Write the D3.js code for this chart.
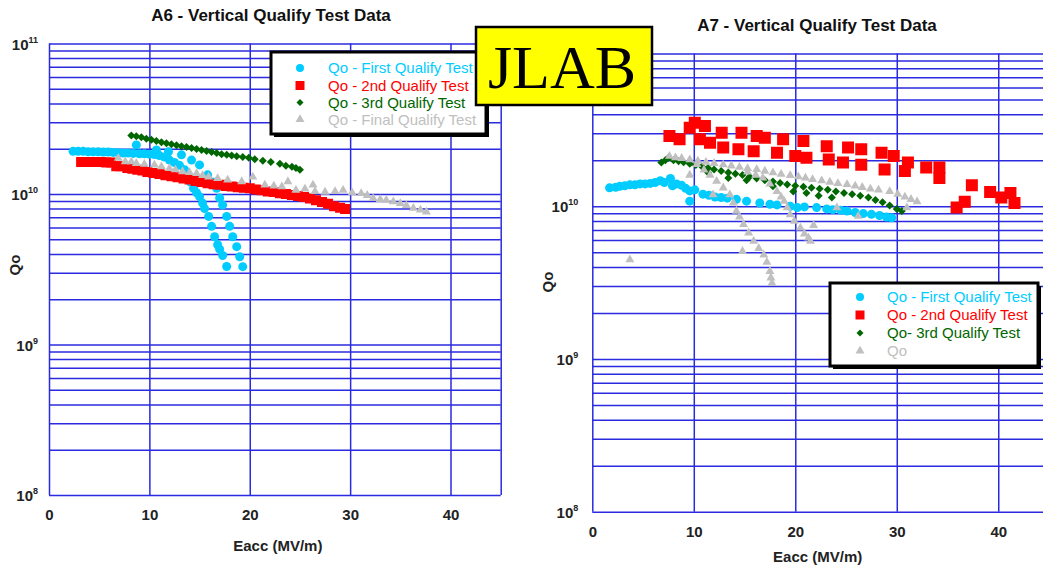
<!DOCTYPE html>
<html><head><meta charset="utf-8">
<script src="https://cdn.jsdelivr.net/npm/d3@7"></script>
<style>
body{margin:0;background:#fff;}
svg{display:block;font-family:"Liberation Sans",Arial,sans-serif;}
</style></head><body>
<svg id="c" width="1043" height="568"></svg>
<script>
// ---------- data ----------
const xTickValues = [0, 10, 20, 30, 40];
const yLabelExponents = [8, 9, 10, 11];
const titleA6 = "A6 - Vertical Qualify Test Data";
const titleA7 = "A7 - Vertical Qualify Test Data";
const xTitle = "Eacc (MV/m)";
const yTitle = "Qo";
const legendA6 = ["Qo - First Qualify Test", "Qo - 2nd Qualify Test", "Qo - 3rd Qualify Test", "Qo - Final Qualify Test"];
const legendA7 = ["Qo - First Qualify Test", "Qo - 2nd Qualify Test", "Qo- 3rd Qualify Test", "Qo"];

// A6 : [Eacc MV/m, Qo]
const a6First = [[2.4,1.92e10],[2.9,1.92e10],[3.4,1.92e10],[3.9,1.91e10],[4.4,1.91e10],[4.9,1.91e10],[5.4,1.90e10],[5.9,1.90e10],[6.4,1.89e10],[6.9,1.88e10],[7.4,1.87e10],[7.9,1.87e10],[8.7,2.12e10],[8.4,1.86e10],[9.0,1.85e10],[9.5,1.85e10],[10.0,1.84e10],[10.7,1.96e10],[10.5,1.83e10],[11.0,1.80e10],[11.5,1.76e10],[11.9,1.91e10],[12.0,1.68e10],[12.5,1.62e10],[13.0,1.55e10],[13.2,1.82e10],[13.5,1.45e10],[13.8,1.34e10],[14.2,1.68e10],[14.1,1.20e10],[14.4,1.09e10],[14.7,1.02e10],[15.0,9.6e9],[15.0,1.56e10],[15.3,8.7e9],[15.5,8.0e9],[15.8,1.34e10],[15.9,7.1e9],[16.2,6.1e9],[16.5,5.2e9],[16.3,1.2e10],[16.7,1.09e10],[16.8,4.6e9],[17.0,9.4e9],[17.0,4.3e9],[17.3,8.45e9],[17.3,3.9e9],[17.7,3.3e9],[17.7,7.1e9],[18.0,6.1e9],[18.3,5.2e9],[18.7,4.47e9],[19.0,3.83e9],[19.3,3.29e9]];
const a6Second = [[3.2,1.63e10],[3.7,1.63e10],[4.2,1.63e10],[4.7,1.63e10],[5.2,1.63e10],[5.7,1.62e10],[6.2,1.62e10],[6.7,1.53e10],[7.2,1.53e10],[7.8,1.49e10],[8.3,1.47e10],[8.8,1.45e10],[9.3,1.43e10],[9.8,1.40e10],[10.4,1.38e10],[11.0,1.36e10],[11.6,1.33e10],[12.2,1.31e10],[12.8,1.29e10],[13.4,1.27e10],[14.0,1.25e10],[14.6,1.22e10],[15.2,1.20e10],[15.8,1.18e10],[16.4,1.16e10],[17.0,1.15e10],[17.6,1.13e10],[18.2,1.12e10],[18.8,1.11e10],[19.4,1.10e10],[20.0,1.09e10],[20.6,1.07e10],[21.2,1.06e10],[21.8,1.04e10],[22.4,1.03e10],[23.0,1.01e10],[23.6,1.0e10],[24.2,9.85e9],[24.8,9.7e9],[25.4,9.55e9],[26.0,9.35e9],[26.6,9.1e9],[27.2,8.85e9],[27.8,8.6e9],[28.4,8.3e9],[29.0,8.1e9],[29.5,7.95e9]];
const a6Third = [[8.2,2.45e10],[8.7,2.42e10],[9.2,2.38e10],[9.7,2.33e10],[10.2,2.29e10],[10.7,2.25e10],[11.2,2.21e10],[11.7,2.17e10],[12.2,2.14e10],[12.7,2.11e10],[13.2,2.08e10],[13.7,2.05e10],[14.2,2.02e10],[14.7,1.99e10],[15.2,1.96e10],[15.7,1.93e10],[16.2,1.90e10],[16.7,1.87e10],[17.2,1.84e10],[17.7,1.82e10],[18.2,1.80e10],[18.7,1.78e10],[19.3,1.76e10],[19.9,1.74e10],[20.5,1.70e10],[21.3,1.66e10],[22.1,1.63e10],[23.0,1.59e10],[23.6,1.54e10],[24.2,1.52e10],[24.6,1.49e10],[25.0,1.45e10]];
const a6Final = [[6.9,1.73e10],[7.6,1.64e10],[8.2,1.64e10],[8.7,1.60e10],[9.5,1.58e10],[10.5,1.56e10],[11.2,1.52e10],[12.0,1.48e10],[12.6,1.45e10],[13.3,1.41e10],[14.0,1.39e10],[14.7,1.37e10],[15.3,1.33e10],[15.9,1.30e10],[16.8,1.27e10],[17.8,1.24e10],[19.2,1.21e10],[20.3,1.30e10],[21.5,1.15e10],[22.4,1.13e10],[23.2,1.12e10],[23.8,1.21e10],[24.6,1.06e10],[25.5,1.08e10],[26.3,1.15e10],[26.5,1.04e10],[27.5,1.03e10],[28.5,1.04e10],[29.3,1.06e10],[30.2,1.02e10],[31.1,1.01e10],[31.7,9.8e9],[32.3,9.35e9],[33.0,9.2e9],[33.6,9.1e9],[34.3,8.9e9],[35.0,8.65e9],[35.6,8.4e9],[36.3,8.05e9],[37.0,7.85e9],[37.6,7.6e9]];

// A7 : [Eacc MV/m, Qo]
const a7First = [[1.7,1.32e10],[2.3,1.33e10],[2.7,1.35e10],[3.2,1.36e10],[3.7,1.38e10],[4.2,1.38e10],[4.7,1.40e10],[5.2,1.40e10],[5.7,1.41e10],[6.2,1.43e10],[6.7,1.47e10],[7.1,1.43e10],[7.7,1.52e10],[7.9,1.36e10],[8.3,1.40e10],[8.8,1.37e10],[9.2,1.31e10],[9.6,1.26e10],[9.6,1.08e10],[10.1,1.28e10],[10.9,1.20e10],[11.5,1.18e10],[12.1,1.15e10],[12.7,1.14e10],[13.3,1.13e10],[14.2,1.11e10],[15.2,1.08e10],[16.5,1.05e10],[17.5,1.03e10],[18.2,1.02e10],[19.5,1.0e10],[20.2,9.8e9],[20.9,9.9e9],[22.1,9.8e9],[23.1,9.6e9],[23.7,9.5e9],[24.5,9.4e9],[25.1,9.3e9],[25.9,9.1e9],[26.7,8.95e9],[27.5,8.85e9],[28.3,8.7e9],[29.0,8.5e9],[29.5,8.4e9]];
const a7Second = [[7.6,2.88e10],[8.6,2.74e10],[9.6,3.27e10],[10.1,3.52e10],[11.1,3.35e10],[10.6,2.74e10],[11.6,2.60e10],[12.75,3.03e10],[12.9,2.42e10],[14.4,2.36e10],[14.7,3.03e10],[15.9,2.29e10],[16.2,2.88e10],[17.0,2.81e10],[18.2,2.24e10],[18.8,2.74e10],[20.0,2.13e10],[20.8,2.67e10],[21.1,2.08e10],[23.1,2.47e10],[23.3,2.02e10],[24.7,1.93e10],[25.2,2.42e10],[26.5,2.36e10],[26.5,1.87e10],[28.5,2.24e10],[28.8,1.74e10],[29.7,2.13e10],[30.8,1.70e10],[31.1,1.93e10],[32.9,1.79e10],[34.2,1.79e10],[34.2,1.53e10],[35.9,9.8e9],[36.7,1.07e10],[37.4,1.37e10],[39.2,1.24e10],[40.3,1.14e10],[41.2,1.22e10],[41.6,1.05e10]];
const a7Third = [[6.8,1.93e10],[7.2,2.0e10],[7.5,2.08e10],[8.0,2.0e10],[8.5,1.97e10],[9.0,1.94e10],[9.6,1.90e10],[10.2,1.86e10],[10.8,1.82e10],[11.4,1.78e10],[12.0,1.74e10],[12.7,1.70e10],[13.4,1.66e10],[14.1,1.63e10],[14.8,1.60e10],[15.5,1.56e10],[16.2,1.52e10],[17.0,1.48e10],[17.8,1.45e10],[18.5,1.42e10],[19.2,1.39e10],[20.0,1.36e10],[20.8,1.34e10],[21.6,1.32e10],[22.4,1.30e10],[23.2,1.28e10],[24.0,1.25e10],[24.8,1.22e10],[25.6,1.20e10],[26.4,1.17e10],[27.2,1.14e10],[27.9,1.10e10],[28.6,1.06e10],[29.3,1.01e10],[30.0,9.6e9],[30.5,9.3e9],[11.4,1.66e10],[13.4,1.53e10],[15.2,1.48e10],[17.8,1.35e10],[19.8,1.25e10],[21.1,1.22e10],[22.3,1.17e10],[23.6,1.14e10]];
const a7Final = [[7.6,2.13e10],[8.2,2.08e10],[8.8,2.06e10],[9.6,2.02e10],[10.4,1.98e10],[11.2,1.94e10],[12.0,1.91e10],[12.9,1.87e10],[13.7,1.84e10],[14.5,1.80e10],[15.3,1.77e10],[16.2,1.74e10],[17.0,1.70e10],[17.8,1.66e10],[18.6,1.62e10],[19.5,1.59e10],[20.3,1.56e10],[21.0,1.53e10],[21.7,1.50e10],[22.6,1.47e10],[23.4,1.44e10],[24.2,1.41e10],[25.1,1.39e10],[25.9,1.36e10],[26.6,1.33e10],[27.4,1.30e10],[28.2,1.28e10],[29.3,1.25e10],[30.1,1.20e10],[30.8,1.15e10],[31.4,1.11e10],[32.0,1.07e10],
  [10.3,1.88e10],[11.0,1.73e10],[11.6,1.60e10],[12.25,1.46e10],[12.9,1.32e10],[13.55,1.19e10],[13.9,1.05e10],[14.2,9.3e9],[14.5,8.5e9],[14.9,7.6e9],[15.4,6.7e9],[15.9,5.9e9],[16.4,5.3e9],[16.9,4.8e9],[17.2,4.3e9],[17.5,3.75e9],[17.6,3.4e9],[17.7,3.14e9],
  [15.3,1.68e10],[16.1,1.60e10],[16.8,1.53e10],[17.5,1.40e10],[18.2,1.25e10],[18.6,1.15e10],[18.9,1.08e10],[19.2,9.8e9],[19.5,8.8e9],[19.9,8.0e9],[20.5,7.2e9],[20.9,6.6e9],[21.3,6.2e9],[21.5,5.9e9],
  [3.7,4.47e9],[9.6,1.6e10],[11.9,1.19e10],[14.8,5.07e9],[21.8,7.5e9],[24.1,9.8e9],[26.2,8.6e9],[31.0,9.8e9]];

// ---------- style ----------
const gridColor = "#2a2ae0";
const seriesColors = ["#00ccff", "#ff0000", "#006600", "#c0c0c0"];
const seriesShapes = ["circle", "square", "diamond", "triangle"];

const svg = d3.select("#c");

function symbolPath(shape, s) {
  if (shape === "circle") return d3.symbol(d3.symbolCircle, Math.PI * (s/2) * (s/2))();
  if (shape === "square") return d3.symbol(d3.symbolSquare, s * s)();
  if (shape === "diamond") return d3.symbol(d3.symbolSquare, (s/Math.SQRT2) * (s/Math.SQRT2))();
  return d3.symbol(d3.symbolTriangle, Math.sqrt(3)/4 * s * s)();
}

function drawChart(cfg) {
  const g = svg.append("g");
  const x = d3.scaleLinear().domain([0, 45]).range([cfg.x0, cfg.x1]);
  const y = d3.scaleLog().domain([1e8, 1e11]).range([cfg.y1, cfg.y0]);
  const w = cfg.x1 - cfg.x0, h = cfg.y1 - cfg.y0;

  const minor = [];
  for (let e = 8; e <= 10; e++) for (let m = 1; m <= 9; m++) minor.push(m * Math.pow(10, e));
  minor.push(1e11);

  // horizontal grid
  g.append("g").attr("transform", `translate(${cfg.x0},0)`)
    .call(d3.axisLeft(y).tickValues(minor).tickSize(-w).tickFormat(""))
    .call(s => s.select(".domain").remove())
    .selectAll("line").attr("stroke", gridColor).attr("stroke-width", 1.5);

  // vertical grid + x labels
  const xa = g.append("g").attr("transform", `translate(0,${cfg.y1})`)
    .call(d3.axisBottom(x).tickValues(xTickValues.concat([45])).tickSize(-h)
      .tickFormat(d => xTickValues.includes(d) ? String(d) : ""));
  xa.select(".domain").remove();
  xa.selectAll("line").attr("stroke", gridColor).attr("stroke-width", 1.5);
  xa.selectAll("text").attr("y", 25).attr("dy", 0)
    .attr("font-family", "Liberation Sans, Arial, sans-serif")
    .attr("font-size", 15).attr("font-weight", "bold").attr("fill", "#222");

  // y labels 10^n
  yLabelExponents.forEach(e => {
    const t = g.append("text").attr("x", cfg.x0 - cfg.yLabGap).attr("y", y(Math.pow(10, e)) + 6)
      .attr("text-anchor", "end").attr("fill", "#222").attr("font-weight", "bold");
    t.append("tspan").attr("font-size", 15).text("10");
    t.append("tspan").attr("font-size", 9).attr("dy", -7).text(String(e));
  });

  // titles
  g.append("text").attr("x", cfg.titleX).attr("y", cfg.titleY).attr("text-anchor", "middle")
    .attr("font-size", 17).attr("font-weight", "bold").attr("fill", "#111").text(cfg.title);
  g.append("text").attr("x", (cfg.x0 + Math.min(cfg.x1, 1043)) / 2 + cfg.xTitleShift).attr("y", cfg.xTitleY)
    .attr("text-anchor", "middle").attr("font-size", 15).attr("font-weight", "bold").attr("fill", "#222").text(xTitle);
  g.append("text").attr("transform", `translate(${cfg.yTitleX},${cfg.yTitleY}) rotate(-90)`)
    .attr("text-anchor", "middle").attr("font-size", 15).attr("font-weight", "bold").attr("fill", "#222").text(yTitle);

  // points
  const clip = "clip" + cfg.id;
  svg.append("clipPath").attr("id", clip).append("rect")
    .attr("x", cfg.x0 - 6).attr("y", cfg.y0 - 6).attr("width", w + 12).attr("height", h + 12);
  const pg = g.append("g").attr("clip-path", `url(#${clip})`);
  cfg.series.forEach((data, i) => {
    const shape = seriesShapes[i];
    const size = cfg.sizes[i];
    pg.append("g").selectAll("path").data(data).join("path")
      .attr("d", symbolPath(shape, size))
      .attr("transform", d => `translate(${x(d[0])},${y(d[1])})` + (shape === "diamond" ? " rotate(45)" : ""))
      .attr("fill", seriesColors[i]);
  });

  // legend
  const L = cfg.legend;
  g.append("rect").attr("x", L.x + 3).attr("y", L.y + 3).attr("width", L.w).attr("height", L.h).attr("fill", "#000");
  g.append("rect").attr("x", L.x).attr("y", L.y).attr("width", L.w).attr("height", L.h)
    .attr("fill", "#fff").attr("stroke", "#000").attr("stroke-width", 3);
  cfg.legendLabels.forEach((lab, i) => {
    const cy = L.rowY[i];
    const shape = seriesShapes[i];
    g.append("path").attr("d", symbolPath(shape, L.sym[i]))
      .attr("transform", `translate(${L.mx},${cy})` + (shape === "diamond" ? " rotate(45)" : ""))
      .attr("fill", seriesColors[i]);
    g.append("text").attr("x", L.tx).attr("y", cy + 5).attr("font-size", 15)
      .attr("fill", seriesColors[i]).text(lab);
  });
}

drawChart({
  id: "a6", x0: 49, x1: 500.7, y0: 43.5, y1: 495, yLabGap: 11,
  title: titleA6, titleX: 271, titleY: 21, xTitleY: 551, xTitleShift: 3, yTitleX: 20, yTitleY: 265,
  series: [a6First, a6Second, a6Third, a6Final], sizes: [9, 10, 8, 9],
  legendLabels: legendA6,
  legend: { x: 271, y: 52, w: 215, h: 82, mx: 300, tx: 328, rowY: [68, 85.5, 102.5, 119.5], sym: [8, 9, 7, 9] }
});
drawChart({
  id: "a7", x0: 592.3, x1: 1049, y0: 53.5, y1: 511.7, yLabGap: 14,
  title: titleA7, titleX: 817, titleY: 31, xTitleY: 562, xTitleShift: 0, yTitleX: 553, yTitleY: 282,
  series: [a7First, a7Second, a7Third, a7Final], sizes: [9, 12, 8, 9],
  legendLabels: legendA7,
  legend: { x: 830, y: 283, w: 208, h: 83, mx: 860, tx: 887, rowY: [297, 315, 333, 351], sym: [8, 9, 7, 9] }
});

// JLAB badge
svg.append("rect").attr("x", 476).attr("y", 27).attr("width", 176).attr("height", 78)
  .attr("fill", "#ffff00").attr("stroke", "#000").attr("stroke-width", 2.5);
svg.append("text").attr("x", 562).attr("y", 88).attr("text-anchor", "middle")
  .attr("font-family", "Liberation Serif, Times New Roman, serif").attr("font-size", 62).attr("fill", "#000").text("JLAB");
</script>
</body></html>
